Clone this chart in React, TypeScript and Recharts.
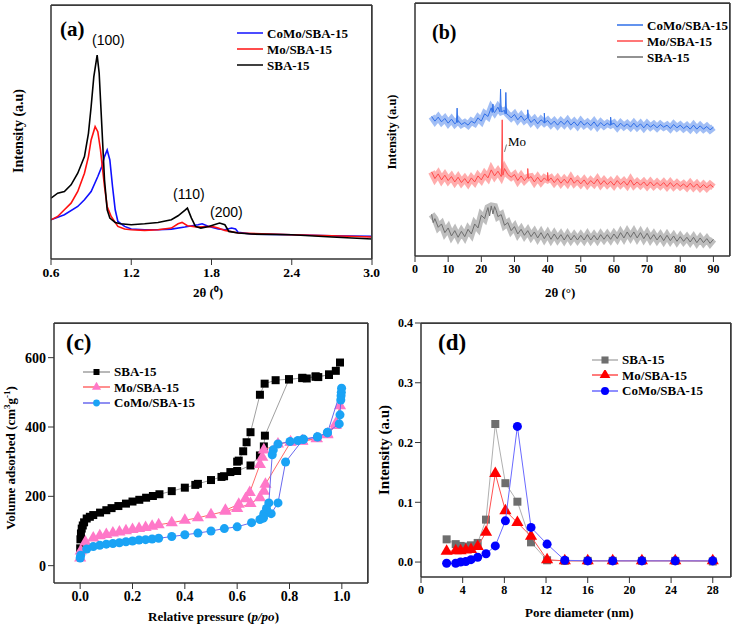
import React from 'react'
import {
  LineChart,
  Line,
  ScatterChart,
  Scatter,
  XAxis,
  YAxis,
  ZAxis,
  ReferenceLine,
  Symbols,
} from 'recharts'

const serif = '"Liberation Serif", "Times New Roman", serif'
const sans = '"Liberation Sans", Arial, sans-serif'

// (a) low-angle XRD, intensity in arbitrary units
const lowAngleTicks = [0.6, 1.2, 1.8, 2.4, 3.0]
const sbaLowX = [0.6, 0.65, 0.7, 0.75, 0.8, 0.85, 0.88, 0.9, 0.92, 0.945, 0.96, 0.98, 1.0, 1.02, 1.04, 1.08, 1.12, 1.2, 1.3, 1.4, 1.5, 1.55, 1.6, 1.62, 1.65, 1.68, 1.72, 1.78, 1.82, 1.86, 1.9, 1.93, 2.0, 2.1, 2.4, 2.7, 3.0]
const sbaLowI = [183, 198, 203, 223, 258, 308, 378, 458, 548, 613, 560, 400, 238, 148, 123, 110, 106, 103, 106, 110, 118, 130, 146, 153, 123, 98, 93, 98, 103, 108, 103, 83, 78, 75, 73, 66, 60]
const moLowX = [0.6, 0.65, 0.7, 0.75, 0.8, 0.85, 0.88, 0.9, 0.93, 0.95, 0.97, 1.0, 1.02, 1.05, 1.1, 1.15, 1.2, 1.3, 1.4, 1.5, 1.55, 1.58, 1.62, 1.7, 1.8, 1.85, 1.9, 2.0, 2.4, 2.7, 3.0]
const moLowI = [118, 128, 148, 168, 203, 258, 308, 358, 398, 383, 328, 218, 158, 128, 98, 90, 88, 86, 88, 93, 106, 110, 100, 96, 98, 93, 86, 78, 73, 70, 66]
const comoLowX = [0.6, 0.7, 0.8, 0.85, 0.9, 0.95, 0.98, 1.0, 1.02, 1.04, 1.06, 1.08, 1.1, 1.15, 1.2, 1.3, 1.4, 1.5, 1.6, 1.7, 1.73, 1.78, 1.85, 1.9, 1.95, 1.98, 2.0, 2.1, 2.4, 2.7, 3.0]
const comoLowI = [118, 133, 158, 178, 203, 248, 278, 308, 328, 298, 218, 148, 113, 98, 90, 88, 88, 90, 96, 103, 106, 98, 90, 88, 93, 90, 80, 75, 73, 70, 68]

// (b) wide-angle XRD
const wideTicks = [0, 10, 20, 30, 40, 50, 60, 70, 80, 90]
const wideAngles = [
  5, 6, 7, 8, 9, 10, 11, 12, 13, 14,
  15, 16, 17, 18, 19, 20, 21, 22, 23, 24,
  25, 26, 27, 28, 29, 30, 31, 32, 33, 34,
  35, 36, 37, 38, 39, 40, 41, 42, 43, 44,
  45, 46, 47, 48, 49, 50, 51, 52, 53, 54,
  55, 56, 57, 58, 59, 60, 61, 62, 63, 64,
  65, 66, 67, 68, 69, 70, 71, 72, 73, 74,
  75, 76, 77, 78, 79, 80, 81, 82, 83, 84,
  85, 86, 87, 88, 89, 90,
]
const comoWide = [
  418, 404, 416, 402, 412, 398, 410, 396, 406, 394,
  400, 392, 404, 398, 414, 404, 426, 418, 444, 430,
  446, 432, 436, 424, 414, 424, 408, 420, 406, 414,
  400, 410, 396, 408, 398, 406, 394, 404, 392, 404,
  394, 406, 392, 402, 390, 404, 392, 400, 390, 402,
  388, 400, 390, 398, 392, 398, 386, 398, 388, 396,
  386, 398, 386, 396, 384, 396, 386, 394, 384, 394,
  386, 392, 382, 394, 384, 392, 382, 390, 380, 392,
  380, 390, 380, 388, 378, 386,
]
const comoSpikeX = [12.5, 12.7, 12.9, 23.3, 23.5, 23.7, 25.6, 25.8, 26.0, 27.2, 27.4, 27.6, 33.8, 34.0, 34.2, 38.8, 39.0, 39.2, 58.8, 59.0, 59.2]
const comoSpikeI = [400, 443, 400, 430, 455, 432, 432, 500, 432, 426, 490, 426, 414, 438, 412, 402, 428, 400, 392, 416, 394]
const moWide = [
  252, 232, 246, 228, 242, 226, 238, 222, 236, 220,
  232, 218, 234, 222, 240, 228, 246, 234, 258, 240,
  254, 238, 262, 244, 236, 244, 226, 240, 226, 236,
  238, 222, 236, 222, 234, 228, 234, 220, 232, 218,
  230, 218, 234, 218, 228, 216, 228, 214, 226, 216,
  230, 214, 226, 214, 224, 212, 226, 214, 224, 212,
  228, 212, 222, 212, 222, 210, 222, 210, 220, 210,
  220, 208, 220, 208, 218, 208, 216, 206, 218, 206,
  216, 204, 214, 204, 214, 206,
]
const moSpikeX = [26.1, 26.3, 26.5, 33.8, 34.0, 34.2, 39.8, 40.0, 40.2]
const moSpikeI = [244, 408, 242, 236, 262, 232, 226, 250, 224]
const sbaWide = [
  125, 112, 86, 96, 70, 84, 60, 76, 56, 74,
  58, 80, 66, 96, 84, 122, 112, 145, 150, 148,
  118, 124, 92, 100, 76, 88, 66, 80, 62, 76,
  58, 72, 54, 70, 52, 68, 50, 66, 50, 64,
  48, 64, 48, 62, 48, 62, 48, 64, 48, 62,
  48, 64, 50, 64, 50, 66, 52, 70, 54, 72,
  56, 72, 54, 70, 52, 68, 50, 64, 48, 62,
  46, 62, 46, 60, 44, 58, 44, 56, 42, 56,
  40, 54, 40, 52, 38, 50,
]
const sbaExtraX = [5.5, 21.5, 22.5, 23.5, 24.5]
const sbaExtraI = [100, 130, 120, 126, 136]

// (c) N2 isotherms, adsorption then desorption branch
const pressureTicks = [0, 0.2, 0.4, 0.6, 0.8, 1.0]
const volumeTicks = [0, 200, 400, 600]
const sbaP = [0, 0.001, 0.003, 0.006, 0.01, 0.015, 0.025, 0.037, 0.05, 0.076, 0.1, 0.12, 0.146, 0.175, 0.2, 0.226, 0.252, 0.278, 0.303, 0.35, 0.4, 0.44, 0.45, 0.5, 0.54, 0.55, 0.574, 0.6, 0.651, 0.687, 0.702, 0.706, 0.798, 0.849, 0.866, 0.9, 0.91, 0.951, 0.977, 0.993,
  0.951, 0.9, 0.849, 0.798, 0.747, 0.705, 0.687, 0.651, 0.636, 0.623, 0.606, 0.6]
const sbaV = [50, 76, 93, 107, 116, 125, 136, 141, 146, 153, 160, 166, 172, 179, 185, 190, 196, 201, 206, 215, 225, 233, 236, 247, 256, 258, 270, 273, 289, 318, 344, 375, 537, 542, 540, 546, 544, 552, 562, 586,
  550, 545, 541, 538, 535, 525, 493, 385, 356, 330, 303, 300]
const moP = [0, 0.002, 0.02, 0.05, 0.075, 0.1, 0.125, 0.15, 0.175, 0.2, 0.225, 0.25, 0.275, 0.3, 0.35, 0.4, 0.45, 0.5, 0.555, 0.6, 0.651, 0.687, 0.702, 0.708, 0.804, 0.849, 0.904, 0.945, 0.977, 0.993,
  0.977, 0.945, 0.904, 0.849, 0.804, 0.756, 0.702, 0.696, 0.687, 0.648, 0.632, 0.606, 0.555]
const moV = [22, 42, 68, 80, 86, 90, 94, 97, 101, 104, 107, 110, 114, 118, 124, 131, 138, 147, 157, 165, 179, 196, 215, 235, 356, 359, 366, 378, 404, 461,
  410, 380, 367, 360, 357, 351, 334, 313, 292, 211, 193, 177, 160]
const comoP = [0, 0.002, 0.025, 0.05, 0.075, 0.1, 0.125, 0.15, 0.175, 0.2, 0.225, 0.25, 0.275, 0.3, 0.35, 0.4, 0.45, 0.5, 0.551, 0.6, 0.655, 0.687, 0.7, 0.73, 0.756, 0.785, 0.853, 0.907, 0.945, 0.99, 0.993, 0.996, 0.997, 0.998, 0.999,
  0.945, 0.907, 0.853, 0.832, 0.802, 0.756, 0.738, 0.734, 0.721, 0.712, 0.702, 0.7]
const comoV = [22, 30, 48, 55, 59, 62, 64, 66, 69, 71, 74, 75, 77, 79, 84, 89, 94, 100, 107, 112, 124, 133, 137, 150, 181, 299, 365, 372, 385, 409, 435, 478, 490, 500, 512,
  383, 371, 364, 361, 358, 351, 334, 320, 181, 165, 150, 141]

// (d) pore size distribution
const poreTicks = [0, 4, 8, 12, 16, 20, 24, 28]
const psdTicks = [0, 0.1, 0.2, 0.3, 0.4]
const poreDiameter = [2.46, 3.33, 3.8, 4.3, 4.8, 5.44, 6.24, 7.13, 8.1, 9.25, 10.56, 12.1, 13.8, 16.0, 18.4, 21.2, 24.4, 28.0]
const sbaPsd = [0.038, 0.030, 0.027, 0.026, 0.028, 0.032, 0.071, 0.231, 0.132, 0.101, 0.033, 0.003, 0.002, 0.002, 0.002, 0.002, 0.002, 0.001]
const moPsd = [0.018, 0.019, 0.019, 0.020, 0.021, 0.026, 0.050, 0.148, 0.086, 0.066, 0.043, 0.004, 0.002, 0.002, 0.002, 0.002, 0.002, 0.002]
const comoPsd = [-0.002, -0.002, 0.000, 0.001, 0.004, 0.008, 0.014, 0.027, 0.069, 0.227, 0.058, 0.030, 0.003, 0.002, 0.002, 0.002, 0.002, 0.002]

const pts = (xs: number[], ys: number[]) => xs.map((x, i) => ({ x, y: ys[i] }))
const merged = (xs: number[], ys: number[], ex: number[], ey: number[]) =>
  [...pts(xs, ys), ...pts(ex, ey)].sort((a, b) => a.x - b.x)

const tickFont = (size: number) => ({ fill: '#000', fontSize: size, fontWeight: 'bold' as const, fontFamily: serif })
const axisLn = { stroke: '#333', strokeWidth: 1.5 }
const edge = '#3a3a3a'

type KeyRow = { label: string; stroke: string; symbol?: 'square' | 'triangle' | 'circle'; fill?: string; size?: number }

function Key({ left, top, rows, gap, lineW, fontSize }: { left: number; top: number; rows: KeyRow[]; gap: number; lineW: number; fontSize: number }) {
  return (
    <div style={{ position: 'absolute', left, top, fontFamily: serif, fontWeight: 'bold', fontSize }}>
      {rows.map((r) => (
        <div key={r.label} style={{ display: 'flex', alignItems: 'center', height: gap }}>
          <svg width={lineW} height={10} style={{ marginRight: 4 }}>
            <line x1={0} x2={lineW} y1={5} y2={5} stroke={r.stroke} strokeWidth={1.5} />
            {r.symbol && <Symbols cx={lineW / 2} cy={5} type={r.symbol} size={r.size || 40} fill={r.fill} />}
          </svg>
          <span style={{ lineHeight: 1 }}>{r.label}</span>
        </div>
      ))}
    </div>
  )
}

function Txt({ left, top, size, children, font = serif, bold = true }: any) {
  return (
    <div style={{ position: 'absolute', left, top, fontSize: size, fontFamily: font, fontWeight: bold ? 'bold' : 'normal', lineHeight: 1, whiteSpace: 'nowrap' }}>
      {children}
    </div>
  )
}

function VTxt({ cx, cy, size, children }: any) {
  return (
    <div style={{ position: 'absolute', left: cx, top: cy, transform: 'translate(-50%, -50%) rotate(-90deg)', fontSize: size, fontFamily: serif, fontWeight: 'bold', lineHeight: 1, whiteSpace: 'nowrap' }}>
      {children}
    </div>
  )
}

// backup box outline around a plot area
function Box({ left, top, width, height }: any) {
  return <div style={{ position: 'absolute', left, top, width, height, boxSizing: 'border-box', borderTop: `1px solid ${edge}`, borderRight: `1px solid ${edge}`, pointerEvents: 'none' }} />
}

export default function App() {
  return (
    <div style={{ position: 'absolute', left: 0, top: 0, width: 732, height: 626, background: '#fff', overflow: 'hidden' }}>
      {/* (a) */}
      <div style={{ position: 'absolute', left: 0, top: 0 }}>
        <LineChart width={380} height={300} margin={{ top: 5, right: 8, bottom: 0, left: 0 }}>
          <XAxis type="number" dataKey="x" domain={[0.6, 3.0]} ticks={lowAngleTicks} allowDataOverflow height={41}
            tickFormatter={(v) => v.toFixed(1)} tick={tickFont(13.5)} axisLine={axisLn} tickLine={{ stroke: '#333' }} />
          <YAxis type="number" domain={[0, 764]} tick={false} tickLine={false} width={51} axisLine={axisLn} />
          <ReferenceLine segment={[{ x: 0.6, y: 764 }, { x: 3.0, y: 764 }]} stroke={edge} strokeWidth={1.5} ifOverflow="visible" />
          <ReferenceLine segment={[{ x: 3.0, y: 0 }, { x: 3.0, y: 764 }]} stroke={edge} strokeWidth={1.5} ifOverflow="visible" />
          <Line data={pts(comoLowX, comoLowI)} dataKey="y" stroke="#1010ff" strokeWidth={1.6} dot={false} isAnimationActive={false} />
          <Line data={pts(moLowX, moLowI)} dataKey="y" stroke="#ff1010" strokeWidth={1.6} dot={false} isAnimationActive={false} />
          <Line data={pts(sbaLowX, sbaLowI)} dataKey="y" stroke="#000" strokeWidth={1.6} dot={false} isAnimationActive={false} />
        </LineChart>
      </div>
      <Box left={51} top={5} width={321} height={254} />
      <Txt left={60} top={19} size={21}>(a)</Txt>
      <Txt left={92} top={33} size={14} font={sans} bold={false}>(100)</Txt>
      <Txt left={173} top={187} size={14} font={sans} bold={false}>(110)</Txt>
      <Txt left={210} top={205} size={14} font={sans} bold={false}>(200)</Txt>
      <Key left={237} top={25} gap={16} lineW={26} fontSize={13}
        rows={[{ label: 'CoMo/SBA-15', stroke: '#1010ff' }, { label: 'Mo/SBA-15', stroke: '#ff1010' }, { label: 'SBA-15', stroke: '#000' }]} />
      <VTxt cx={19} cy={131} size={14}>Intensity (a.u)</VTxt>
      <Txt left={193} top={286} size={13}>2θ (⁰)</Txt>

      {/* (b) */}
      <div style={{ position: 'absolute', left: 370, top: 0 }}>
        <LineChart width={362} height={300} margin={{ top: 3, right: 2, bottom: 0, left: 0 }}>
          <XAxis type="number" dataKey="x" domain={[0, 95]} ticks={wideTicks} allowDataOverflow height={44}
            tick={tickFont(12)} axisLine={axisLn} tickLine={{ stroke: '#333' }} />
          <YAxis type="number" domain={[0, 758]} tick={false} tickLine={false} width={45} axisLine={axisLn} />
          <ReferenceLine segment={[{ x: 0, y: 758 }, { x: 95, y: 758 }]} stroke={edge} strokeWidth={1.5} ifOverflow="visible" />
          <ReferenceLine segment={[{ x: 95, y: 0 }, { x: 95, y: 758 }]} stroke={edge} strokeWidth={1.5} ifOverflow="visible" />
          <Line data={pts(wideAngles, comoWide)} dataKey="y" stroke="#2f6fe8" strokeWidth={7} strokeOpacity={0.45} dot={false} isAnimationActive={false} />
          <Line data={merged(wideAngles, comoWide, comoSpikeX, comoSpikeI)} dataKey="y" stroke="#2f6fe8" strokeWidth={1} dot={false} isAnimationActive={false} />
          <Line data={pts(wideAngles, moWide)} dataKey="y" stroke="#ff4a4a" strokeWidth={7} strokeOpacity={0.45} dot={false} isAnimationActive={false} />
          <Line data={merged(wideAngles, moWide, moSpikeX, moSpikeI)} dataKey="y" stroke="#ff4a4a" strokeWidth={1} dot={false} isAnimationActive={false} />
          <Line data={pts(wideAngles, sbaWide)} dataKey="y" stroke="#6e6e6e" strokeWidth={7} strokeOpacity={0.45} dot={false} isAnimationActive={false} />
          <Line data={merged(wideAngles, sbaWide, sbaExtraX, sbaExtraI)} dataKey="y" stroke="#6e6e6e" strokeWidth={1} dot={false} isAnimationActive={false} />
          <ReferenceLine segment={[{ x: 27.0, y: 312 }, { x: 27.6, y: 334 }]} stroke="#555" strokeWidth={0.8} />
        </LineChart>
      </div>
      <Box left={415} top={3} width={315} height={253} />
      <Txt left={432} top={22} size={20}>(b)</Txt>
      <Txt left={508} top={135} size={13} bold={false}>Mo</Txt>
      <Key left={617} top={17} gap={16} lineW={26} fontSize={13}
        rows={[{ label: 'CoMo/SBA-15', stroke: '#2f6fe8' }, { label: 'Mo/SBA-15', stroke: '#ff4a4a' }, { label: 'SBA-15', stroke: '#6e6e6e' }]} />
      <VTxt cx={392} cy={132} size={12.5}>Intensity (a.u)</VTxt>
      <Txt left={545} top={286} size={13}>2θ (°)</Txt>

      {/* (c) */}
      <div style={{ position: 'absolute', left: 0, top: 300 }}>
        <ScatterChart width={380} height={326} margin={{ top: 23, right: 12, bottom: 0, left: 0 }}>
          <XAxis type="number" dataKey="x" domain={[-0.1, 1.1]} ticks={pressureTicks} allowDataOverflow height={43}
            tickFormatter={(v) => v.toFixed(1)} tick={tickFont(14)} axisLine={axisLn} tickLine={{ stroke: '#333' }} />
          <YAxis type="number" dataKey="y" domain={[-50, 700]} ticks={volumeTicks} allowDataOverflow width={54}
            tick={tickFont(14)} axisLine={axisLn} tickLine={{ stroke: '#333' }} />
          <ZAxis range={[34, 34]} />
          <ReferenceLine segment={[{ x: -0.1, y: 700 }, { x: 1.1, y: 700 }]} stroke={edge} strokeWidth={1.5} ifOverflow="visible" />
          <ReferenceLine segment={[{ x: 1.1, y: -50 }, { x: 1.1, y: 700 }]} stroke={edge} strokeWidth={1.5} ifOverflow="visible" />
          <Scatter data={pts(sbaP, sbaV)} shape="square" fill="#000" line={{ stroke: '#a0a0a0', strokeWidth: 1 }} isAnimationActive={false} />
          <Scatter data={pts(moP, moV)} shape="triangle" fill="#ff78c8" line={{ stroke: '#ff6a6a', strokeWidth: 1 }} isAnimationActive={false} />
          <Scatter data={pts(comoP, comoV)} shape="circle" fill="#1aa3f5" line={{ stroke: '#6a6aee', strokeWidth: 1 }} isAnimationActive={false} />
        </ScatterChart>
      </div>
      <Box left={54} top={323} width={314} height={260} />
      <Txt left={66} top={331} size={23}>(c)</Txt>
      <Key left={83} top={364} gap={15.5} lineW={27} fontSize={13}
        rows={[
          { label: 'SBA-15', stroke: '#a0a0a0', symbol: 'square', fill: '#000', size: 36 },
          { label: 'Mo/SBA-15', stroke: '#ff6a6a', symbol: 'triangle', fill: '#ff78c8', size: 36 },
          { label: 'CoMo/SBA-15', stroke: '#6a6aee', symbol: 'circle', fill: '#1aa3f5', size: 36 },
        ]} />
      <VTxt cx={10} cy={458} size={13}>Volume adsorbed (cm<sup style={{ fontSize: 9 }}>3</sup>g<sup style={{ fontSize: 9 }}>-1</sup>)</VTxt>
      <Txt left={148} top={610} size={13}>Relative pressure (<i>p/po</i>)</Txt>

      {/* (d) */}
      <div style={{ position: 'absolute', left: 370, top: 300 }}>
        <ScatterChart width={362} height={326} margin={{ top: 23, right: 1, bottom: 0, left: 0 }}>
          <XAxis type="number" dataKey="x" domain={[0, 29.75]} ticks={poreTicks} allowDataOverflow height={49}
            tick={tickFont(12)} axisLine={axisLn} tickLine={{ stroke: '#333' }} />
          <YAxis type="number" dataKey="y" domain={[-0.025, 0.4]} ticks={psdTicks} allowDataOverflow width={51}
            tickFormatter={(v) => v.toFixed(1)} tick={tickFont(12)} axisLine={axisLn} tickLine={{ stroke: '#333' }} />
          <ZAxis range={[50, 50]} />
          <ReferenceLine segment={[{ x: 0, y: 0.4 }, { x: 29.75, y: 0.4 }]} stroke={edge} strokeWidth={1.5} ifOverflow="visible" />
          <ReferenceLine segment={[{ x: 29.75, y: -0.025 }, { x: 29.75, y: 0.4 }]} stroke={edge} strokeWidth={1.5} ifOverflow="visible" />
          <Scatter data={pts(poreDiameter, sbaPsd)} shape="square" fill="#6e6e6e" line={{ stroke: '#b0b0b0', strokeWidth: 1 }} isAnimationActive={false} />
          <Scatter data={pts(poreDiameter, moPsd)} shape="triangle" fill="#ff0000" line={{ stroke: '#ff5050', strokeWidth: 1 }} isAnimationActive={false} />
          <Scatter data={pts(poreDiameter, comoPsd)} shape="circle" fill="#0000ff" line={{ stroke: '#6a6aff', strokeWidth: 1 }} isAnimationActive={false} />
        </ScatterChart>
      </div>
      <Box left={421} top={323} width={310} height={254} />
      <Txt left={438} top={331} size={23}>(d)</Txt>
      <Key left={592} top={352} gap={15.5} lineW={26} fontSize={13}
        rows={[
          { label: 'SBA-15', stroke: '#b0b0b0', symbol: 'square', fill: '#6e6e6e', size: 50 },
          { label: 'Mo/SBA-15', stroke: '#ff5050', symbol: 'triangle', fill: '#ff0000', size: 50 },
          { label: 'CoMo/SBA-15', stroke: '#6a6aff', symbol: 'circle', fill: '#0000ff', size: 50 },
        ]} />
      <VTxt cx={384} cy={450} size={15}>Intensity (a.u)</VTxt>
      <Txt left={525} top={606} size={13}>Pore diameter (nm)</Txt>
    </div>
  )
}
